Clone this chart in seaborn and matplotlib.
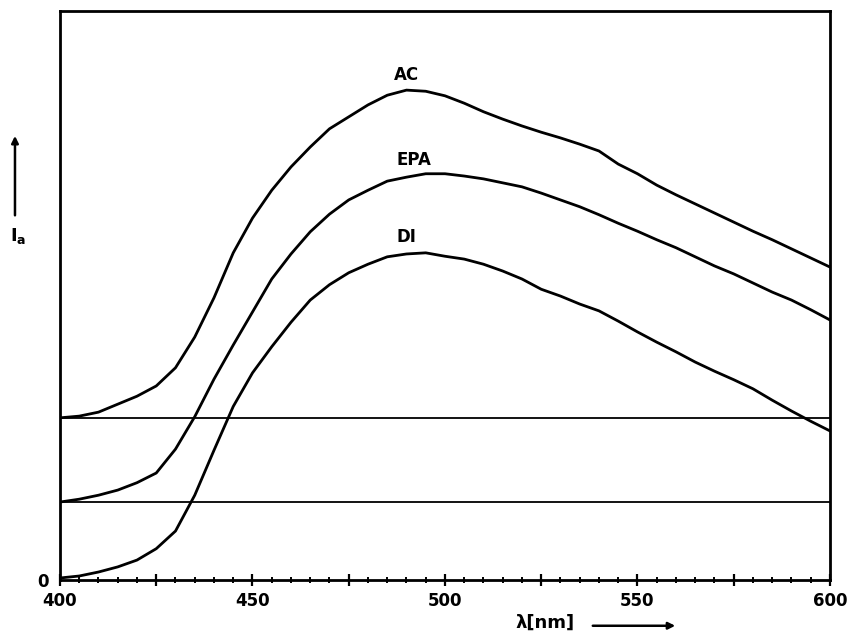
import numpy as np
import pandas as pd
import seaborn as sns
import matplotlib
matplotlib.use("Agg")
import matplotlib.pyplot as plt
from matplotlib.ticker import MultipleLocator, FuncFormatter
from matplotlib.patches import FancyArrowPatch

# wavelength grid (nm), every 5 nm, and curve heights (arb. units 0..100)
wavelength = list(range(400, 605, 5))
ac_values = [28.5, 28.8, 29.5, 30.9, 32.3, 34.1, 37.3, 42.7, 49.6, 57.5, 63.6,
             68.5, 72.6, 76.1, 79.3, 81.4, 83.5, 85.2, 86.1, 85.9, 85.1,
             83.8, 82.3, 81.0, 79.8, 78.7, 77.7, 76.6, 75.4, 73.1, 71.4,
             69.4, 67.7, 66.1, 64.5, 62.9, 61.3, 59.8, 58.2, 56.6, 55.0]
epa_values = [13.7, 14.2, 14.9, 15.8, 17.1, 18.8, 23.0, 28.7, 35.3, 41.3, 47.1,
              52.9, 57.3, 61.2, 64.3, 66.8, 68.5, 70.1, 70.8, 71.4, 71.4,
              71.0, 70.5, 69.8, 69.1, 68.0, 66.8, 65.6, 64.2, 62.7, 61.3,
              59.8, 58.4, 56.8, 55.2, 53.8, 52.2, 50.6, 49.2, 47.5, 45.7]
di_values = [0.35, 0.7, 1.4, 2.3, 3.5, 5.5, 8.6, 14.9, 22.8, 30.5, 36.4,
             41.0, 45.3, 49.2, 51.9, 54.0, 55.5, 56.8, 57.3, 57.5, 56.9,
             56.4, 55.5, 54.3, 52.9, 51.1, 49.9, 48.5, 47.3, 45.5, 43.6,
             41.8, 40.1, 38.3, 36.7, 35.2, 33.6, 31.6, 29.7, 27.9, 26.2]

# baselines of the shifted spectra
baselines = [28.5, 13.7]

# curve labels and where they sit
labels = ["AC", "EPA", "DI"]
label_x = [490, 492, 490]
label_y = [88.7, 73.8, 60.3]

sns.set_style("white")
plt.rcParams["font.family"] = ["DejaVu Sans"]
plt.rcParams["text.color"] = "black"
plt.rcParams["xtick.color"] = "black"
plt.rcParams["ytick.color"] = "black"

fig = plt.figure(figsize=(8.51, 6.34), dpi=100)
ax = fig.add_axes([0.0705, 0.0852, 0.9048, 0.8974])

df = pd.DataFrame({"lam": wavelength, "AC": ac_values, "EPA": epa_values, "DI": di_values})
for name in labels:
    sns.lineplot(data=df, x="lam", y=name, ax=ax, color="black", linewidth=2.0)

for b in baselines:
    ax.axhline(b, color="black", linewidth=1.3)

for txt, lx, ly in zip(labels, label_x, label_y):
    ax.text(lx, ly, txt, ha="center", va="center", fontsize=12, fontweight="bold")

ax.set_xlim(400, 600)
ax.set_ylim(0, 100)

# x ticks: minor every 5, major every 25, labels every 50
ax.xaxis.set_major_locator(MultipleLocator(25))
ax.xaxis.set_minor_locator(MultipleLocator(5))
ax.xaxis.set_major_formatter(FuncFormatter(lambda v, p: f"{int(v)}" if int(v) % 50 == 0 else ""))
ax.tick_params(axis="x", which="both", bottom=True, top=False)
ax.tick_params(axis="x", which="major", direction="inout", length=8, width=1.6,
               labelsize=12, pad=5)
ax.tick_params(axis="x", which="minor", direction="inout", length=5, width=1.4)
for lbl in ax.get_xticklabels():
    lbl.set_fontweight("bold")

ax.set_yticks([0])
ax.set_yticklabels(["0"], fontsize=12, fontweight="bold")
ax.tick_params(axis="y", left=True, length=0, pad=8)

for sp in ax.spines.values():
    sp.set_visible(True)
    sp.set_color("black")
    sp.set_linewidth(2.0)

ax.set_xlabel("")
ax.set_ylabel("")

# axis captions with arrows
fig.text(0.64, 0.017, "λ[nm]", ha="center", va="center", fontsize=13, fontweight="bold")
fig.add_artist(FancyArrowPatch(
    (590 / 851, 0.013), (678 / 851, 0.013), transform=fig.transFigure,
    arrowstyle="-|>", mutation_scale=10, color="black", linewidth=1.8))

fig.text(0.021, 0.627, "I$_\\mathregular{a}$", ha="center", va="center", fontsize=13,
         fontweight="bold")
fig.add_artist(FancyArrowPatch(
    (0.0176, 0.656), (0.0176, 0.79), transform=fig.transFigure,
    arrowstyle="-|>", mutation_scale=10, color="black", linewidth=1.8))

fig.savefig("out.png", dpi=100)
